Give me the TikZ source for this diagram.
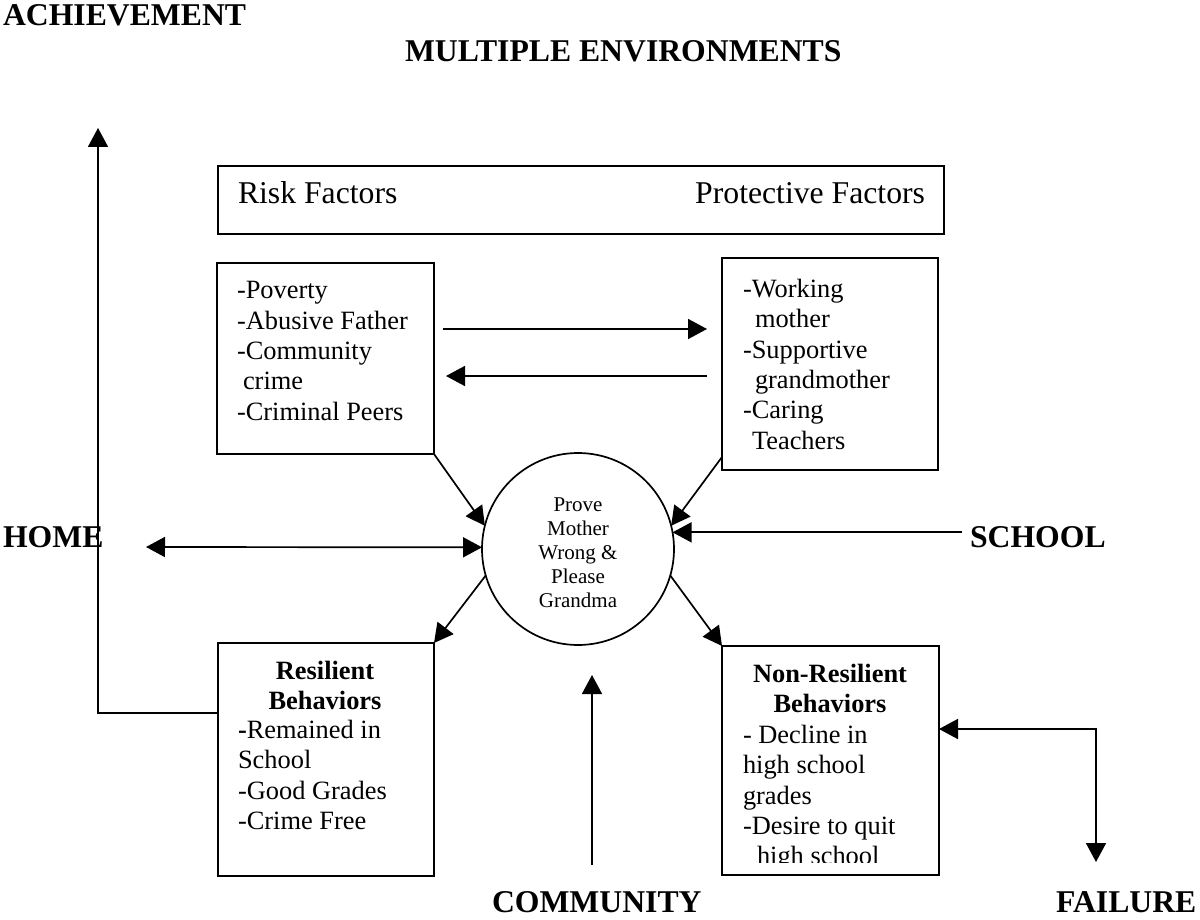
\documentclass[tikz,border=0pt]{standalone}
\usepackage{fontspec}
\setmainfont{Liberation Serif}
\usetikzlibrary{arrows.meta,calc}
\newcommand\boxtxt{\fontsize{26.4}{30.4}\selectfont}
\newcommand\headtxt{\fontsize{31.7}{36}\selectfont}
\newcommand\labtxt{\fontsize{31.7}{36}\selectfont\bfseries}
\newcommand\circtxt{\fontsize{21}{24}\selectfont}
\begin{document}
\begin{tikzpicture}[x=1pt,y=-1pt,
  every node/.style={inner sep=0pt, outer sep=0pt},
  panel/.style={draw, line width=1.7pt, rectangle},
  hub/.style={draw, line width=1.7pt, circle, minimum size=192pt},
  biglab/.style={font=\labtxt, anchor=base west},
  listtxt/.style={font=\boxtxt, align=left, anchor=north west},
  titletxt/.style={font=\boxtxt\bfseries, align=center, anchor=north},
  tip/.style={line width=1.7pt, -{Triangle[length=19pt,width=20pt]}},
  twotip/.style={line width=1.7pt, {Triangle[length=19pt,width=20pt]}-{Triangle[length=19pt,width=20pt]}}]

\useasboundingbox (0,0) rectangle (1200,920);
\fill[white] (0,0) rectangle (1200,920);

% headings and environment labels
\node[biglab] (ach) at (3,26) {ACHIEVEMENT};
\node[biglab] (multi) at (405,62) {MULTIPLE ENVIRONMENTS};
\node[biglab] (home) at (3,547) {HOME};
\node[biglab] (school) at (970,547) {SCHOOL};
\node[biglab] (community) at (492,912) {COMMUNITY};
\node[biglab] (failure) at (1056,912) {FAILURE};

% factor header
\node[panel, minimum width=726pt, minimum height=68pt] (factors) at (581,200) {};
\node[font=\headtxt, anchor=base west] (riskhd) at (238,204) {Risk Factors};
\node[font=\headtxt, anchor=base east] (prothd) at (925,204) {Protective Factors};

% risk and protective factor boxes
\node[panel, minimum width=217pt, minimum height=191pt] (risk) at (325.5,358.5) {};
\node[listtxt] (risklist) at (237,281.5) {-Poverty\\-Abusive Father\\-Community\\\hspace*{6pt}crime\\-Criminal Peers};

\node[panel, minimum width=216pt, minimum height=212pt] (prot) at (830,364) {};
\node[listtxt] (protlist) at (743,279) {-Working\\\hspace*{12pt}mother\\-Supportive\\\hspace*{12pt}grandmother\\-Caring\\\hspace*{9pt}Teachers};

% central goal
\node[hub] (circ) at (578,549) {};
\node[font=\circtxt, align=center] (goal) at (578,553) {Prove\\Mother\\Wrong \&\\Please\\Grandma};

% behaviour boxes
\node[panel, minimum width=216pt, minimum height=233pt] (res) at (326,759.5) {};
\node[titletxt] (restitle) at (325,661) {Resilient\\Behaviors};
\node[listtxt] (reslist) at (238,720) {\textbf{-}Remained in\\School\\-Good Grades\\-Crime Free};

\node[panel, minimum width=217pt, minimum height=229pt] (nonres) at (830.5,760.5) {};
\node[titletxt] (nonrestitle) at (830,664) {Non-Resilient\\Behaviors};
\begin{scope}
  \clip ($(nonres.south west)+(0,-13)$) rectangle (nonres.north east);
  \node[listtxt] (nonreslist) at (743,725) {- Decline in\\high school\\grades\\-Desire to quit\\\hspace*{14pt}high school};
\end{scope}

% free ends of connectors
\coordinate (achtip) at (98,128);
\coordinate (homeend) at (146,547);
\coordinate (commtail) at (592,865);
\coordinate (commtip) at (592,675);
\coordinate (failtip) at (1096,862);

% connectors
\draw[tip, shorten <=9pt, shorten >=15pt] ($(risk.east)+(0,-29.5)$) -- ($(prot.west |- risk.east)+(0,-29.5)$);
\draw[tip, shorten <=15pt, shorten >=12pt] ($(prot.west |- risk.east)+(0,17.5)$) -- ($(risk.east)+(0,17.5)$);
\draw[tip] (risk.south east) -- (circ.166);
\draw[tip] ($(prot.south west)+(0,-13)$) -- (circ.14);
\draw[twotip] (homeend) -- (circ.179);
\draw[tip] ($(circ.10 -| school.west)+(-8,0)$) -- (circ.10);
\draw[tip] (circ.196) -- (res.north east);
\draw[tip] (circ.-16) -- (nonres.north west);
\draw[tip] (commtail) -- (commtip);
\draw[tip] ($(res.west)+(0,-46.5)$) -| (achtip);
\draw[twotip] ($(nonres.east)+(0,-31.5)$) -| (failtip);
\end{tikzpicture}
\end{document}
